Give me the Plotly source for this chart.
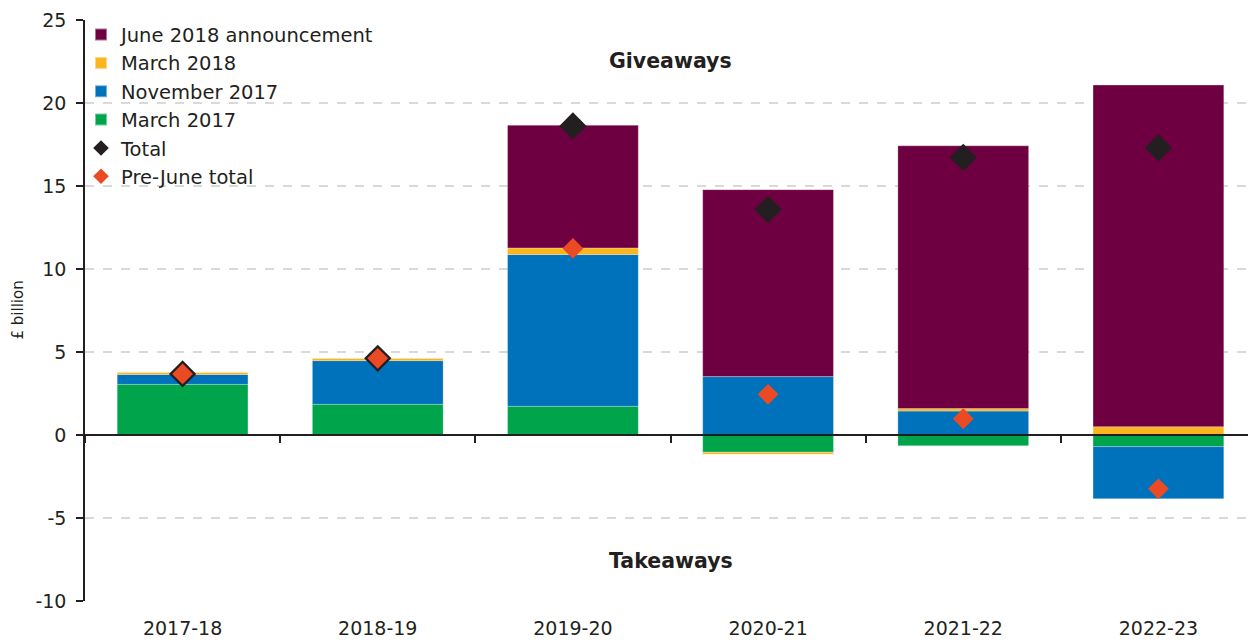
import plotly.graph_objects as go

years = ["2017-18", "2018-19", "2019-20", "2020-21", "2021-22", "2022-23"]
march_2017 = [3.05, 1.85, 1.73, -1.04, -0.65, -0.70]
november_2017 = [0.60, 2.63, 9.14, 3.52, 1.44, -3.14]
march_2018 = [0.13, 0.14, 0.40, -0.12, 0.15, 0.50]
june_2018 = [0.00, 0.00, 7.39, 11.26, 15.83, 20.58]
total = [3.68, 4.62, 18.62, 13.58, 16.72, 17.30]
pre_june_total = [3.68, 4.62, 11.24, 2.45, 0.98, -3.24]

y_ticks = [-10, -5, 0, 5, 10, 15, 20, 25]
y_tick_labels = ["-10", "-5", "0", "5", "10", "15", "20", "25"]

C_PURPLE = "#6E0041"
C_YELLOW = "#FBB61F"
C_BLUE = "#0071BB"
C_GREEN = "#00A44B"
C_BLACK = "#231F20"
C_RED = "#EB4B24"
FONT = "DejaVu Sans"
TXT = "#231F20"

fig = go.Figure()
edge = dict(color="rgba(255,255,255,0.45)", width=0.6)
for name, vals, col, rank in [
    ("March 2017", march_2017, C_GREEN, 4),
    ("November 2017", november_2017, C_BLUE, 3),
    ("March 2018", march_2018, C_YELLOW, 2),
    ("June 2018 announcement", june_2018, C_PURPLE, 1),
]:
    fig.add_trace(go.Bar(x=years, y=vals, name=name, marker=dict(color=col, line=edge),
                         legendrank=rank))

fig.add_trace(go.Scatter(x=years, y=total, name="Total", mode="markers",
                         marker=dict(symbol="diamond", size=21, color=C_BLACK),
                         legendrank=5))
fig.add_trace(go.Scatter(x=years, y=pre_june_total, name="Pre-June total", mode="markers",
                         marker=dict(symbol="diamond", size=16, color=C_RED),
                         legendrank=6))

fig.add_annotation(x=2.5, y=22.55, text="Giveaways", showarrow=False,
                   font=dict(family=FONT, size=20.5, color=TXT, weight="bold"))
fig.add_annotation(x=2.5, y=-7.6, text="Takeaways", showarrow=False,
                   font=dict(family=FONT, size=20.5, color=TXT, weight="bold"))
fig.add_annotation(xref="paper", yref="paper", x=-68/1171, y=0.5, text="£ billion",
                   textangle=-90, showarrow=False, xanchor="center", yanchor="middle",
                   font=dict(family=FONT, size=15, color=TXT))

# page body has an 8px default margin, so the figure is sized to fit the window
fig.update_layout(
    width=1248, height=633,
    margin=dict(l=77, r=0, t=12, b=40, autoexpand=False),
    paper_bgcolor="white", plot_bgcolor="white",
    barmode="relative", bargap=0.33,
    font=dict(family=FONT, color=TXT),
    showlegend=True,
    legend=dict(x=-4/1171, y=1.008, xanchor="left", yanchor="top",
                font=dict(family=FONT, size=19.5, color=TXT),
                bgcolor="rgba(255,255,255,0)", itemsizing="constant",
                tracegroupgap=0, itemwidth=30),
    xaxis=dict(type="category", categoryarray=years, range=[-0.5, 5.5],
               showline=False, ticks="", showgrid=False, zeroline=False, automargin=False,
               ticklabelstandoff=14,
               tickfont=dict(family=FONT, size=19, color=TXT)),
    xaxis2=dict(type="category", categoryarray=years, range=[-0.5, 5.5],
                overlaying="x", anchor="free", position=10/35, side="bottom",
                showline=True, linecolor=C_BLACK, linewidth=1.5, automargin=False,
                ticks="outside", tickson="boundaries", ticklen=7, tickwidth=1.5,
                tickcolor=C_BLACK, showticklabels=False, showgrid=False, zeroline=False),
    yaxis=dict(range=[-10, 25], tickvals=y_ticks, ticktext=y_tick_labels,
               showline=True, linecolor=C_BLACK, automargin=False,
               linewidth=1.5, ticks="outside", ticklen=7, tickwidth=1.5, tickcolor=C_BLACK,
               showgrid=True, gridcolor="#D9D9D9", gridwidth=1.5, griddash="dash",
               zeroline=False, ticklabelstandoff=6,
               tickfont=dict(family=FONT, size=19, color=TXT)),
)
# dummy trace to activate overlay axis carrying the zero line
fig.add_trace(go.Scatter(x=years, y=[None]*6, xaxis="x2", showlegend=False,
                         hoverinfo="skip", mode="markers"))

fig.write_html("out.html")
